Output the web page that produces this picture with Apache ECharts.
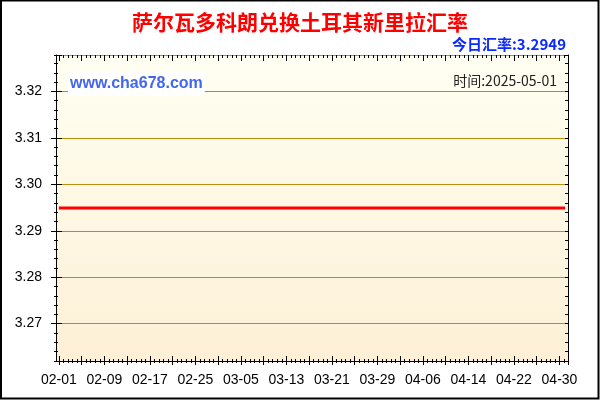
<!DOCTYPE html>
<html lang="zh">
<head>
	<meta charset="UTF-8">
	<title>萨尔瓦多科朗兑换土耳其新里拉汇率</title>
	<script src="https://cdn.jsdelivr.net/npm/echarts@6/dist/echarts.min.js"></script>
	<style>
		html, body { margin: 0; padding: 0; background: #fff; }
		#main { width: 600px; height: 400px; }
	</style>
</head>
<body>
	<div id="main"></div>
	<script>
		// 日期: 2025-02-01 起 90 天
		var startDay = '2025-02-01';
		var dayCount = 90;
		var days = [];
		var d0 = new Date(startDay + 'T00:00:00Z');
		for (var i = 0; i < dayCount; i++) {
			var d = new Date(d0.getTime() + i * 86400000);
			var mm = ('0' + (d.getUTCMonth() + 1)).slice(-2);
			var dd = ('0' + d.getUTCDate()).slice(-2);
			days.push(mm + '-' + dd);
		}
		// 汇率 (每日)
		var rates = [
			3.2949, 3.2949, 3.2949, 3.2949, 3.2949, 3.2949, 3.2949, 3.2949, 3.2949, 3.2949,
			3.2949, 3.2949, 3.2949, 3.2949, 3.2949, 3.2949, 3.2949, 3.2949, 3.2949, 3.2949,
			3.2949, 3.2949, 3.2949, 3.2949, 3.2949, 3.2949, 3.2949, 3.2949, 3.2949, 3.2949,
			3.2949, 3.2949, 3.2949, 3.2949, 3.2949, 3.2949, 3.2949, 3.2949, 3.2949, 3.2949,
			3.2949, 3.2949, 3.2949, 3.2949, 3.2949, 3.2949, 3.2949, 3.2949, 3.2949, 3.2949,
			3.2949, 3.2949, 3.2949, 3.2949, 3.2949, 3.2949, 3.2949, 3.2949, 3.2949, 3.2949,
			3.2949, 3.2949, 3.2949, 3.2949, 3.2949, 3.2949, 3.2949, 3.2949, 3.2949, 3.2949,
			3.2949, 3.2949, 3.2949, 3.2949, 3.2949, 3.2949, 3.2949, 3.2949, 3.2949, 3.2949,
			3.2949, 3.2949, 3.2949, 3.2949, 3.2949, 3.2949, 3.2949, 3.2949, 3.2949, 3.2949
		];
		var todayRate = '3.2949';
		var todayDate = '2025-05-01';
		var yMin = 3.26195;
		var yMax = 3.32785;

		var G_LEFT = 56, G_RIGHT = 32, G_TOP = 55, G_BOTTOM = 39;
		var band = (600 - G_LEFT - G_RIGHT) / dayCount;

		// 只画刻度的辅助轴
		function tickX(pos, interval, len, inside) {
			return {
				type: 'value', gridIndex: 1, position: pos,
				min: 0, max: dayCount - 0.5, interval: interval,
				axisLine: { show: false }, axisLabel: { show: false }, splitLine: { show: false },
				axisTick: { show: true, inside: inside, length: len, lineStyle: { color: '#000' } }
			};
		}
		function tickY(pos, split, len, inside) {
			return {
				type: 'value', gridIndex: 0, position: pos,
				min: yMin, max: yMax, splitNumber: split,
				axisLine: { show: false }, axisLabel: { show: false }, splitLine: { show: false },
				axisTick: { show: true, inside: inside, length: len, lineStyle: { color: '#000' } }
			};
		}

		var myChart = echarts.init(document.getElementById('main'));
		var option = {
			animation: false,
			backgroundColor: '#fff',
			grid: [{
				left: G_LEFT, right: G_RIGHT, top: G_TOP, bottom: G_BOTTOM,
				show: true, borderWidth: 0,
				backgroundColor: new echarts.graphic.LinearGradient(0, 0, 0, 1, [
					{ offset: 0, color: '#fffff2' },
					{ offset: 1, color: '#fdf0d6' }
				])
			}, {
				left: G_LEFT + band / 2, right: G_RIGHT, top: G_TOP, bottom: G_BOTTOM
			}],
			xAxis: [{
				type: 'category', gridIndex: 0, position: 'bottom',
				data: days, boundaryGap: true,
				axisLine: { show: true, lineStyle: { color: '#000', width: 1 } },
				axisTick: { show: false },
				axisLabel: { interval: 7, margin: 12, color: '#000', fontSize: 14, fontFamily: 'Arial' },
				splitLine: { show: false }
			},
				tickX('bottom', 4, 5, true),
				tickX('bottom', 4, 4, false),
				tickX('bottom', 0.8, 2, true),
				tickX('bottom', 0.8, 2, false),
				tickX('top', 4, 6, true),
				tickX('top', 0.8, 3, true)
			],
			yAxis: [{
				type: 'value', gridIndex: 0, position: 'left',
				min: yMin, max: yMax, splitNumber: 6,
				axisLine: { show: true, lineStyle: { color: '#000', width: 1 } },
				axisTick: { show: true, inside: false, length: 5, lineStyle: { color: '#000' } },
				axisLabel: {
					margin: 14, color: '#000', fontSize: 14, fontFamily: 'Arial',
					showMinLabel: false, showMaxLabel: false,
					formatter: function (v) { return v.toFixed(2); }
				},
				splitLine: { show: true, lineStyle: { color: '#bf8c0c', width: 1 } }
			},
				tickY('left', 6, 6, true),
				tickY('left', 33, 2, false),
				tickY('left', 33, 2, true),
				{
					type: 'value', gridIndex: 0, position: 'right',
					min: yMin, max: yMax, splitNumber: 33,
					axisLine: { show: true, lineStyle: { color: '#000', width: 1 } },
					axisLabel: { show: false }, splitLine: { show: false },
					axisTick: { show: true, inside: true, length: 3, lineStyle: { color: '#000' } }
				},
				{ type: 'value', gridIndex: 1, show: false }
			],
			series: [{
				type: 'line',
				xAxisIndex: 0, yAxisIndex: 0,
				data: rates,
				showSymbol: false,
				lineStyle: { color: '#ff0000', width: 3 },
				z: 5
			}],
			graphic: [
				{ type: 'rect', shape: { x: 1, y: 0.5, width: 597.5, height: 398 },
				  style: { fill: 'none', stroke: '#000', lineWidth: 2 }, z: 100 },
				{ type: 'text', z: 100, style: {
					text: '萨尔瓦多科朗兑换土耳其新里拉汇率', x: 300, y: 22,
					textAlign: 'center', textVerticalAlign: 'middle',
					font: 'bold 21px "Noto Sans CJK SC"', fill: '#ff0000' } },
				{ type: 'text', z: 100, style: {
					text: '今日汇率:' + todayRate, x: 566, y: 44,
					textAlign: 'right', textVerticalAlign: 'middle',
					font: 'bold 15px "Noto Sans CJK SC"', fill: '#0a28ff' } },
				{ type: 'text', z: 100, style: {
					text: 'www.cha678.com', x: 68, y: 84,
					textAlign: 'left', textVerticalAlign: 'middle',
					font: 'bold 16px Arial', fill: '#4466ee',
					backgroundColor: '#fff', padding: [4, 2, 4, 2] } },
				{ type: 'text', z: 100, style: {
					text: '时间:' + todayDate, x: 557, y: 81,
					textAlign: 'right', textVerticalAlign: 'middle',
					font: '14px "Noto Sans CJK SC"', fill: '#222' } }
			]
		};
		myChart.setOption(option);
	</script>
</body>
</html>
